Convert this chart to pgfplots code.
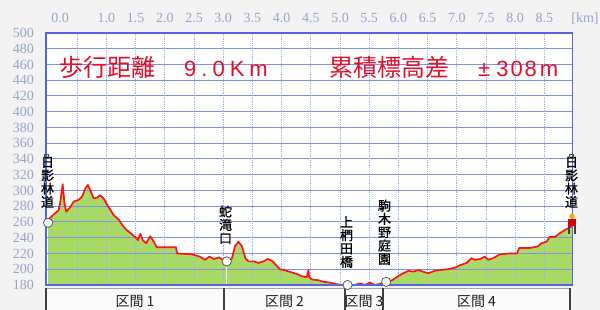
\documentclass[border=0pt]{standalone}
\usepackage{fontspec}
\setmainfont{Liberation Serif}
\newfontfamily\jp{Noto Sans CJK JP}
\newfontfamily\jpb[FakeBold=0.8]{Noto Sans CJK JP}
\newfontfamily\lsans{Liberation Sans}
\usepackage{pgfplots}
\usepackage{pgfplotstable}
\pgfplotsset{compat=1.18}
\definecolor{bgc}{HTML}{F3F3F3}
\definecolor{tickc}{HTML}{95A3D0}
\definecolor{framec}{HTML}{5566DD}
\definecolor{hgrid}{HTML}{8090E6}
\definecolor{vgrid}{HTML}{A0B2EE}
\definecolor{greenc}{HTML}{A9DA66}
\definecolor{linec}{HTML}{FF1414}
\definecolor{titlec}{HTML}{E0102A}

\pgfplotstableread{
x y
0.00 263
0.09 269
0.18 275
0.21 286
0.25 308
0.28 284
0.31 273
0.38 279
0.44 286
0.52 288
0.58 292
0.64 303
0.68 307
0.72 301
0.78 290
0.84 291
0.89 294
0.95 290
1.01 282
1.07 275
1.12 269
1.21 263
1.27 256
1.34 250
1.41 246
1.49 241
1.54 237
1.58 245
1.62 237
1.68 233
1.75 242
1.81 235
1.86 228
2.19 228
2.21 220
2.46 219
2.60 216
2.69 212
2.76 216
2.84 213
2.93 215
2.99 212
3.06 210
3.15 214
3.20 229
3.26 235
3.32 229
3.38 214
3.43 210
3.52 210
3.60 208
3.69 210
3.76 213
3.83 211
3.91 205
3.97 200
4.09 198
4.17 196
4.26 194
4.35 191
4.43 190
4.46 199
4.47 190
4.52 187
4.63 186
4.72 184
4.83 183
4.94 181
5.06 180
5.13 180
5.26 180
5.34 182
5.43 180
5.51 183
5.60 180
5.71 182
5.79 184
5.89 186
5.97 190
6.06 194
6.17 198
6.26 197
6.34 199
6.46 196
6.52 195
6.62 198
6.73 199
6.84 200
6.97 202
7.05 205
7.17 208
7.25 214
7.31 212
7.40 213
7.48 216
7.54 212
7.62 214
7.74 219
7.91 220
8.03 220
8.07 227
8.25 227
8.39 229
8.45 233
8.54 235
8.59 241
8.68 241
8.77 246
8.88 251
8.986 255
}\prof

\begin{document}
\begin{tikzpicture}[x=1pt,y=1pt]
\useasboundingbox (0,0) rectangle (600,310);
\fill[bgc] (0,0) rectangle (600,310);
\fill[white] (46,25) rectangle (572.7,277);
% section boxes
\fill[white!60!bgc] (46,0) rectangle (570,22);
\draw[gray!70, line width=0.8pt] (46,22) -- (570,22);
\foreach \xx in {46,224,345,383,570} \draw[black!75, line width=1.1pt] (\xx,0) -- (\xx,22);

\begin{axis}[
  at={(46pt,25pt)}, anchor=south west,
  scale only axis, width=526.7pt, height=252pt,
  xmin=-0.036, xmax=8.986, ymin=180, ymax=500,
  axis on top,
  xtick={0.5,1,1.5,2,2.5,3,3.5,4,4.5,5,5.5,6,6.5,7,7.5,8,8.5},
  xticklabels={{},1.0,1.5,2.0,2.5,3.0,3.5,4.0,4.5,5.0,5.5,6.0,6.5,7.0,7.5,8.0,8.5},
  xticklabel pos=upper,
  ytick={180,200,...,500},
  major tick length=0pt,
  tick style={draw=none},
  tick label style={font=\fontsize{14}{14}\selectfont, text=tickc, inner sep=0pt},
  xticklabel style={anchor=base, yshift=10pt},
  yticklabel style={anchor=east, xshift=-12pt},
  /pgf/number format/assume math mode=true,
  axis line style={draw=framec, line width=1.2pt},
]
\addplot[draw=none, fill=greenc] table {\prof} \closedcycle;
% grid over the fill
\pgfplotsinvokeforeach{200,220,240,260,280,300,320,340,360,380,400,420,440,460,480}{
  \draw[hgrid, line width=1pt] (axis cs:-0.036,#1) -- (axis cs:8.986,#1);
}
\pgfplotsinvokeforeach{0.5,1,1.5,2,2.5,3,3.5,4,4.5,5,5.5,6,6.5,7,7.5,8,8.5}{
  \draw[vgrid, densely dotted, line width=0.8pt] (axis cs:#1,180) -- (axis cs:#1,500);
}
\addplot[linec, line width=1.7pt, line join=round] table {\prof};
\draw[white, line width=1.5pt] (axis cs:3.06,180) -- (axis cs:3.06,207);
\addplot[only marks, mark=*, mark size=4.6pt,
  mark options={fill=white, draw=black!65, line width=0.8pt}]
  coordinates {(0,259) (3.06,210) (5.13,180) (5.79,184)};
\end{axis}

% extra top labels
\node[anchor=base, inner sep=0pt, text=tickc, font=\fontsize{14}{14}\selectfont] at (60,287) {0.0};
\node[anchor=base, inner sep=0pt, text=tickc, font=\fontsize{14}{14}\selectfont] at (585,287) {[km]};

% titles
\node[anchor=base west, inner sep=0pt, text=titlec, font=\jp\fontsize{24}{24}\selectfont] at (59,233.5) {歩行距離};
\node[anchor=base west, inner sep=0pt, text=titlec, font=\lsans\fontsize{22}{22}\selectfont] at (184,233) {9\hspace{5pt}.\hspace{5pt}0\hspace{5pt}K\hspace{5pt}m};
\node[anchor=base west, inner sep=0pt, text=titlec, font=\jp\fontsize{24}{24}\selectfont] at (329,233.5) {累積標高差};
\node[anchor=base west, inner sep=0pt, text=titlec, font=\lsans\fontsize{22}{22}\selectfont] at (478,233) {±\hspace{6pt}3\hspace{2pt}0\hspace{2pt}8\hspace{3pt}m};

% waypoint labels
\tikzset{wp/.style={anchor=south, inner sep=0pt, align=center, text=black, font=\jpb\fontsize{13}{13.3}\selectfont}}
\node[wp] at (47.5,102) {日\\影\\林\\道};
\node[wp] at (225.5,66) {蛇\\滝\\口};
\node[wp] at (346.5,42) {上\\椚\\田\\橋};
\node[wp] at (384.5,45) {駒\\木\\野\\庭\\園};
\node[wp] at (571.5,102) {日\\影\\林\\道};

\draw[black!70, line width=0.6pt] (44.7,151.3) rectangle (48.7,155.3);
\draw[black!70, line width=0.6pt] (569.7,151.3) rectangle (573.7,155.3);

% hiker
\fill[red!85!black] (568,84) rectangle (575.5,91);
\fill[orange!70!yellow] (572,94) circle (2.6);
\fill[black!75] (567.5,76) rectangle (569.8,84);
\fill[black!75] (573.7,76) rectangle (576,84);

% section names
\tikzset{sec/.style={anchor=base, inner sep=0pt, text=black!88, font=\jp\fontsize{14}{14}\selectfont}}
\node[sec] at (135,3) {区間 1};
\node[sec] at (284.5,3) {区間 2};
\node[sec] at (364,3) {区間 3};
\node[sec] at (476.5,3) {区間 4};
\end{tikzpicture}
\end{document}
